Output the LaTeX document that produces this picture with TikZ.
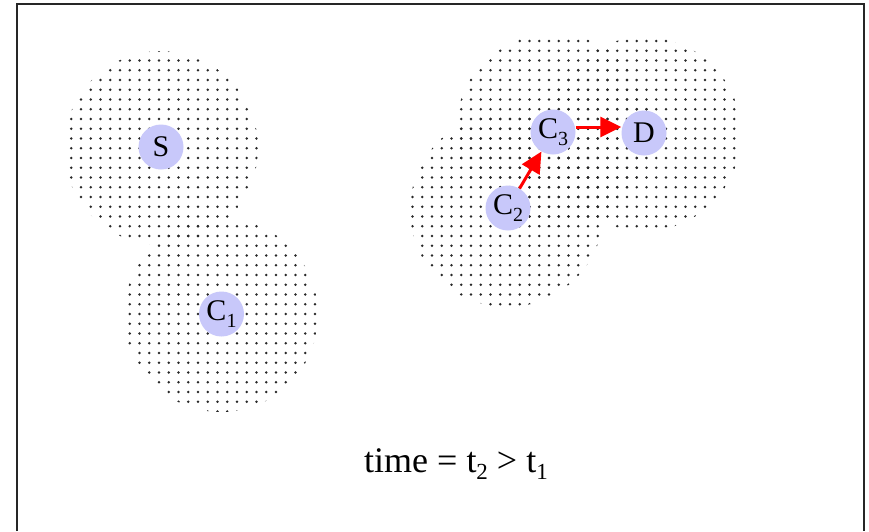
\documentclass[tikz,border=0pt]{standalone}
\usepackage{fontspec}
\setmainfont{Liberation Serif}
\usetikzlibrary{arrows.meta}
\definecolor{nodefill}{RGB}{200,200,250}
\definecolor{dotc}{RGB}{40,40,40}
\newcommand{\dotdisk}[3]{%
  \begin{scope}
    \clip (#1,#2) circle[radius=#3];
    \pgfmathtruncatemacro\ia{floor((#1-#3)/9.75)-1}
    \pgfmathtruncatemacro\ib{ceil((#1+#3)/9.75)+1}
    \pgfmathtruncatemacro\ja{floor((#2-#3)/9.75)-1}
    \pgfmathtruncatemacro\jb{ceil((#2+#3)/9.75)+1}
    \foreach \i in {\ia,...,\ib}{
      \foreach \j in {\ja,...,\jb}{
        \fill[dotc] (\i*9.75+3,\j*9.75+2) circle[radius=1.4];
      }
    }
  \end{scope}}
\newcommand{\lab}[2]{#1\raisebox{-7pt}{\fontsize{20}{20}\selectfont #2}}
\begin{document}
\begin{tikzpicture}[x=1pt,y=-1pt,
  station/.style={circle,fill=nodefill,minimum size=45pt,inner sep=0pt,
    font=\fontsize{30}{30}\selectfont},
  hop/.style={red,line width=3pt,-{Triangle[length=21pt,width=20pt]}},
  frame/.style={line width=1.8pt,draw=black!85}]
\useasboundingbox (0,0) rectangle (869,531);
\fill[white] (0,0) rectangle (869,531);
% coverage areas
\dotdisk{161}{148}{97}
\dotdisk{221}{315}{97}
\dotdisk{507}{210}{97}
\dotdisk{553}{130}{97}
\dotdisk{644}{134}{97}
% frame
\draw[frame] (17,531) -- (17,4) -- (864,4) -- (864,531);
% stations
\node[station] (s) at (161,147) {S};
\node[station] (c1) at (221.5,314) {\lab{C}{1}};
\node[station] (c2) at (508,208) {\lab{C}{2}};
\node[station] (c3) at (553,132) {\lab{C}{3}};
\node[station] (d) at (644,133) {D};
% hops
\draw[hop] (c2) -- (c3);
\draw[hop] (c3.east) ++(0,-5) coordinate (c3r) (c3r) -- (d.west |- c3r);
% caption
\node[font=\fontsize{36}{36}\selectfont,anchor=base] (cap) at (456,472)
  {time = t\raisebox{-7pt}{\fontsize{23}{23}\selectfont 2} \textgreater{} t\raisebox{-7pt}{\fontsize{23}{23}\selectfont 1}};
\end{tikzpicture}
\end{document}
